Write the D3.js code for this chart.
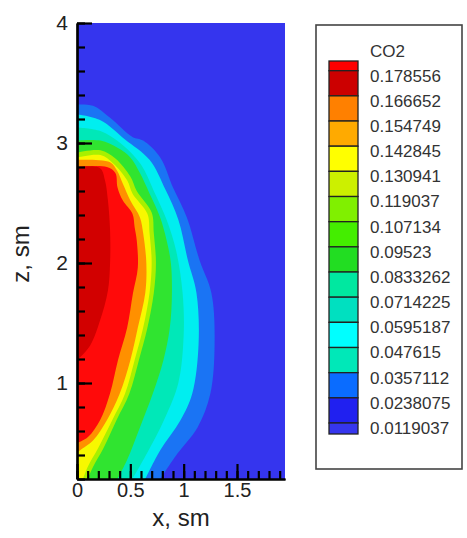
<!DOCTYPE html>
<html><head><meta charset="utf-8">
<script src="https://cdn.jsdelivr.net/npm/d3@7"></script>
<style>
body{margin:0;background:#fff}
svg{display:block}
text{font-family:"Liberation Sans",Arial,Helvetica,sans-serif}
</style>
</head><body>
<svg id="chart" width="467" height="538"></svg>
<script>
// ---- data ----
const legendTitle = "CO2";
const levelLabels = ["0.178556","0.166652","0.154749","0.142845","0.130941","0.119037","0.107134","0.09523","0.0833262","0.0714225","0.0595187","0.047615","0.0357112","0.0238075","0.0119037"];
const xMajorTicks = [0, 0.5, 1, 1.5];
const zMajorTicks = [1, 2, 3, 4];
const xDomain = [0, 1.95];
const zDomain = [0.2, 4];

// contour boundaries [x, z], each starting on the axis x=0 at the top
const edgeBlue   = [[0,3.32],[0.15,3.31],[0.31,3.21],[0.52,3.05],[0.62,3.02],[0.78,2.88],[0.90,2.63],[1.03,2.38],[1.15,2.02],[1.26,1.75],[1.29,1.33],[1.25,0.91],[1.13,0.63],[0.94,0.41],[0.78,0.20]];
const edgeCyan   = [[0,3.24],[0.22,3.19],[0.45,3.03],[0.68,2.86],[0.83,2.61],[0.95,2.36],[1.04,2.02],[1.12,1.75],[1.14,1.33],[1.08,0.91],[0.97,0.69],[0.78,0.44],[0.64,0.20]];
const edgeAqua   = [[0,3.13],[0.22,3.10],[0.42,2.99],[0.60,2.82],[0.72,2.60],[0.84,2.36],[0.93,2.10],[0.99,1.75],[1.00,1.40],[0.95,1.00],[0.82,0.70],[0.66,0.42],[0.52,0.20]];
const edgeGreen  = [[0,3.02],[0.22,3.02],[0.38,2.96],[0.50,2.88],[0.59,2.75],[0.68,2.58],[0.78,2.38],[0.84,2.19],[0.88,2.00],[0.89,1.75],[0.87,1.46],[0.81,1.19],[0.71,0.91],[0.59,0.63],[0.47,0.36],[0.38,0.20]];
const edgeLime   = [[0,2.92],[0.22,2.94],[0.36,2.87],[0.50,2.72],[0.56,2.60],[0.70,2.42],[0.72,2.25],[0.74,2.00],[0.72,1.75],[0.66,1.46],[0.58,1.19],[0.49,0.91],[0.37,0.69],[0.25,0.46],[0.15,0.30],[0.10,0.20]];
const edgeYellow = [[0,2.88],[0.22,2.90],[0.34,2.83],[0.47,2.69],[0.52,2.58],[0.66,2.41],[0.68,2.25],[0.70,2.00],[0.68,1.75],[0.62,1.46],[0.54,1.19],[0.45,0.91],[0.33,0.69],[0.20,0.46],[0.10,0.30],[0.056,0.20]];
const edgeOrange = [[0,2.86],[0.31,2.84],[0.375,2.77],[0.43,2.66],[0.50,2.52],[0.59,2.38],[0.62,2.25],[0.65,2.00],[0.64,1.75],[0.57,1.46],[0.50,1.19],[0.40,0.91],[0.28,0.69],[0.15,0.52],[0.03,0.44],[0,0.42]];
const edgeRed    = [[0,2.80],[0.28,2.80],[0.36,2.75],[0.38,2.63],[0.43,2.52],[0.52,2.41],[0.54,2.30],[0.56,2.19],[0.57,1.96],[0.525,1.75],[0.47,1.46],[0.384,1.19],[0.309,0.91],[0.216,0.69],[0.103,0.55],[0,0.50]];
const edgeDark   = [[0,2.80],[0.216,2.79],[0.262,2.69],[0.29,2.52],[0.31,2.27],[0.31,2.00],[0.29,1.77],[0.216,1.52],[0.122,1.31],[0,1.19]];

// ---- styles ----
const legendColors = ["#ff0000","#cc0000","#ff8000","#ffaa00","#ffff00","#ccf000","#80f000","#44ee00","#22dd22","#00e8a0","#00e0c0","#00ffff","#00e8b8","#0a6cff","#2020f0","#3636ee"];
const regions = [
  {edge: edgeBlue,   fill: "#1a74f4"},
  {edge: edgeCyan,   fill: "#00eef0"},
  {edge: edgeAqua,   fill: "#00e8b8"},
  {edge: edgeGreen,  fill: "#30e430"},
  {edge: edgeLime,   fill: "#a8f000"},
  {edge: edgeYellow, fill: "#f8f800"},
  {edge: edgeOrange, fill: "#ff9000"},
  {edge: edgeRed,    fill: "#ff0a0a"},
  {edge: edgeDark,   fill: "#d20000"}
];
const bgColor = "#3535ee";

const svg = d3.select("#chart");
const x = d3.scaleLinear().domain(xDomain).range([77, 285]);
const y = d3.scaleLinear().domain(zDomain).range([479, 23]);

svg.append("defs").append("clipPath").attr("id","plotclip")
  .append("rect").attr("x",x(xDomain[0])).attr("y",y(zDomain[1]))
  .attr("width",x(xDomain[1])-x(xDomain[0])).attr("height",y(zDomain[0])-y(zDomain[1]));

const plot = svg.append("g").attr("clip-path","url(#plotclip)");
plot.append("rect").attr("x",x(xDomain[0])).attr("y",y(zDomain[1]))
  .attr("width",x(xDomain[1])-x(xDomain[0])).attr("height",y(zDomain[0])-y(zDomain[1]))
  .attr("fill",bgColor);

const line = d3.line().x(d=>x(d[0])).y(d=>y(d[1])).curve(d3.curveCatmullRom.alpha(0.5));
regions.forEach(r=>{
  const last = r.edge[r.edge.length-1];
  let d = line(r.edge);
  if (last[0] !== 0) d += `L${x(0)},${y(zDomain[0])}`;
  plot.append("path").attr("d", d+"Z").attr("fill", r.fill);
});

// ---- axes ----
function styleAxis(g){
  g.select(".domain").attr("stroke","#000").attr("stroke-width",2.2);
  g.selectAll(".tick line").attr("stroke","#000").attr("stroke-width",2.2);
  g.selectAll("text").attr("fill","#222").attr("font-family","'Liberation Sans',Arial,sans-serif");
}
const gxMinor = svg.append("g").attr("transform",`translate(0,${y(zDomain[0])})`)
  .call(d3.axisBottom(x).tickValues(d3.range(0, 1.951, 0.1)).tickSize(-8).tickSizeOuter(0).tickFormat(""));
styleAxis(gxMinor);
const gx = svg.append("g").attr("transform",`translate(0,${y(zDomain[0])})`)
  .call(d3.axisBottom(x).tickValues(xMajorTicks).tickSize(-15).tickSizeOuter(0).tickPadding(4).tickFormat(d=>d3.format("")(d)));
styleAxis(gx);
gx.selectAll("text").attr("font-size",20);

const gyMinor = svg.append("g").attr("transform",`translate(${x(0)},0)`)
  .call(d3.axisLeft(y).tickValues(d3.range(0.2, 4.01, 0.2)).tickSize(-8).tickSizeOuter(0).tickFormat(""));
styleAxis(gyMinor);
const gy = svg.append("g").attr("transform",`translate(${x(0)},0)`)
  .call(d3.axisLeft(y).tickValues(zMajorTicks).tickSize(-15).tickSizeOuter(0).tickPadding(9).tickFormat(d3.format("d")));
styleAxis(gy);
gy.selectAll("text").attr("font-size",21);

svg.append("text").attr("x",181).attr("y",526).attr("text-anchor","middle")
  .attr("font-size",24).attr("fill","#222").text("x, sm");
svg.append("text").attr("transform","translate(29,254) rotate(-90)").attr("text-anchor","middle")
  .attr("font-size",24).attr("fill","#222").text("z, sm");

// ---- legend ----
const leg = svg.append("g");
leg.append("rect").attr("x",316).attr("y",25).attr("width",146).attr("height",444)
  .attr("fill","#fff").attr("stroke","#444").attr("stroke-width",1.6);
const ly = d3.scaleLinear().domain([0, levelLabels.length-1]).range([70.7, 423]);
const bandTop = i => i===0 ? 61 : ly(i-1);
const bandBot = i => i===legendColors.length-1 ? 434 : ly(i);
leg.selectAll("rect.band").data(legendColors).enter().append("rect").attr("class","band")
  .attr("x",329).attr("width",29)
  .attr("y",(d,i)=>bandTop(i)).attr("height",(d,i)=>bandBot(i)-bandTop(i))
  .attr("fill",d=>d).attr("stroke","#222").attr("stroke-width",1.3);
leg.append("text").attr("x",370).attr("y",51).attr("dy","0.35em").attr("font-size",17).attr("fill","#333").text(legendTitle);
leg.selectAll("text.lab").data(levelLabels).enter().append("text").attr("class","lab")
  .attr("x",370).attr("y",(d,i)=>ly(i)+5).attr("dy","0.35em")
  .attr("font-size",17).attr("fill","#333").text(d=>d);
</script>
</body></html>
